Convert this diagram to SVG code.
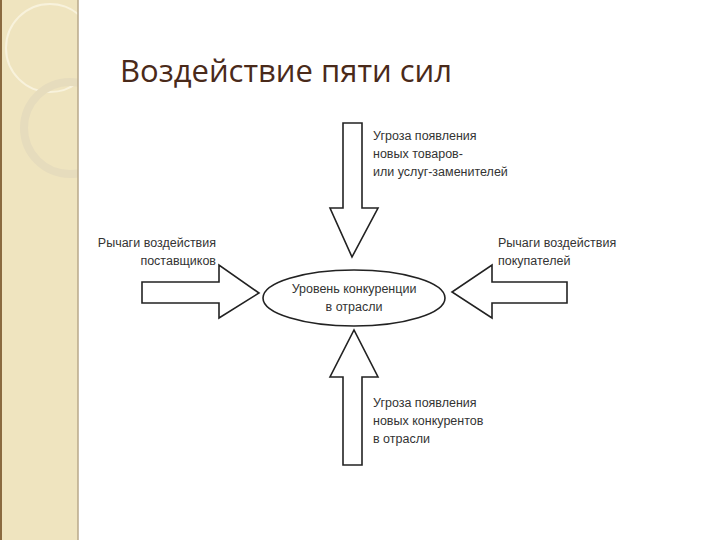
<svg xmlns="http://www.w3.org/2000/svg" width="720" height="540" viewBox="0 0 720 540">
<style>
.a{fill:#fff;stroke:#222;stroke-width:1.6;stroke-linejoin:miter}
.t{font-family:"Liberation Sans",sans-serif;font-size:12.5px;fill:#333}
</style>
<defs><clipPath id="sb"><rect x="0" y="0" width="78" height="540"/></clipPath></defs>
<rect width="720" height="540" fill="#fff"/>
<g id="sidebar">
<rect x="0" y="0" width="78" height="540" fill="#efe4bf"/>
<g clip-path="url(#sb)">
<circle cx="50" cy="48" r="44" fill="none" stroke="#f8f2dc" stroke-width="2"/>
<circle cx="70" cy="128" r="46" fill="none" stroke="#e6dcbd" stroke-width="8"/>
</g>
<rect x="0" y="0" width="2" height="540" fill="#8a6a40"/>
<line x1="78" y1="0" x2="78" y2="540" stroke="#b9a88a" stroke-width="1.5"/>
</g>
<text x="120" y="82" font-family="'Open Sans','Liberation Sans',sans-serif" font-size="31" fill="#4a2a1a">Воздействие пяти сил</text>
<g id="connectors">
<polygon id="top" class="a" points="343,123 362,123 362,208 378,208 352,257 330,208 343,208"/>
<polygon id="bottom" class="a" points="343,465 362,465 362,377 378,377 354,330 330,377 343,377"/>
<polygon id="left" class="a" points="142,282 219,282 219,265 259,293 219,318 219,303 142,303"/>
<polygon id="right" class="a" points="567,282 492,282 492,265 452,292 492,318 492,303 567,303"/>
</g>
<g id="center">
<ellipse cx="354" cy="298" rx="91" ry="28" class="a"/>
<text class="t" x="354" y="293" text-anchor="middle">Уровень конкуренции</text>
<text class="t" x="354" y="311" text-anchor="middle">в отрасли</text>
</g>
<g id="lbl-top">
<text class="t" x="373" y="140">Угроза появления</text>
<text class="t" x="373" y="158">новых товаров-</text>
<text class="t" x="373" y="176">или услуг-заменителей</text>
</g>
<g id="lbl-bottom">
<text class="t" x="373" y="407">Угроза появления</text>
<text class="t" x="373" y="425">новых конкурентов</text>
<text class="t" x="373" y="443">в отрасли</text>
</g>
<g id="lbl-left">
<text class="t" x="216" y="247" text-anchor="end">Рычаги воздействия</text>
<text class="t" x="216" y="265" text-anchor="end">поставщиков</text>
</g>
<g id="lbl-right">
<text class="t" x="498" y="247">Рычаги воздействия</text>
<text class="t" x="498" y="265">покупателей</text>
</g>
</svg>
